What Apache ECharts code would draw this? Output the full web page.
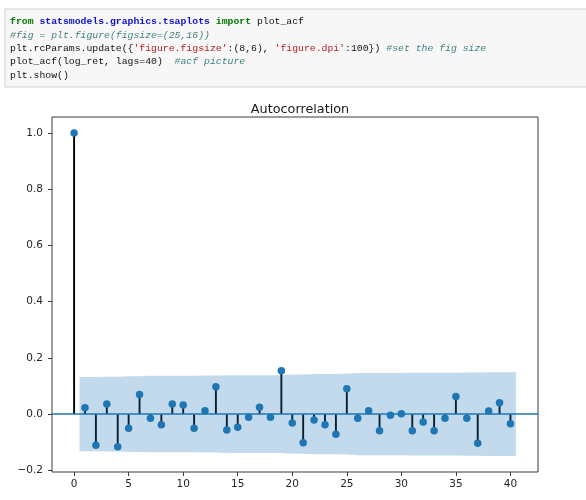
<!DOCTYPE html>
<html>
<head>
<meta charset="utf-8">
<script src="https://cdn.jsdelivr.net/npm/echarts@6.0.0/dist/echarts.min.js"></script>
<style>
  html, body { margin: 0; padding: 0; background: #fff; }
  #acf-chart { width: 586px; height: 500px; }
</style>
</head>
<body>
<div id="acf-chart"></div>
<script>
// lags and autocorrelation values
const lags = [0, 1, 2, 3, 4, 5, 6, 7, 8, 9, 10, 11, 12, 13, 14, 15, 16, 17, 18, 19, 20,
  21, 22, 23, 24, 25, 26, 27, 28, 29, 30, 31, 32, 33, 34, 35, 36, 37, 38, 39, 40]
const acfValues = [1.0, 0.023, -0.111, 0.036, -0.116, -0.050, 0.070, -0.015, -0.038, 0.036, 0.032,
  -0.050, 0.012, 0.097, -0.057, -0.047, -0.011, 0.024, -0.011, 0.154, -0.032,
  -0.102, -0.021, -0.038, -0.072, 0.090, -0.015, 0.012, -0.059, -0.004, 0.001,
  -0.059, -0.028, -0.059, -0.015, 0.063, -0.015, -0.104, 0.011, 0.040, -0.034]

// confidence band (symmetric around 0)
const bandLags = [0.5, 2, 3, 4, 5, 6, 7, 8, 9, 10, 11, 12, 13, 14, 15, 16, 17, 18, 19, 20,
  21, 22, 23, 24, 25, 26, 27, 28, 29, 30, 31, 32, 33, 34, 35, 36, 37, 38, 39, 40.5]
const bandHalf = [0.132, 0.132, 0.133, 0.133, 0.135, 0.135, 0.136, 0.136, 0.136, 0.136,
  0.136, 0.137, 0.137, 0.138, 0.138, 0.138, 0.138, 0.138, 0.138, 0.141,
  0.141, 0.143, 0.143, 0.143, 0.144, 0.146, 0.146, 0.146, 0.146, 0.146,
  0.147, 0.147, 0.147, 0.147, 0.147, 0.148, 0.148, 0.149, 0.149, 0.149]

const xTicks = [0, 5, 10, 15, 20, 25, 30, 35, 40]
const yTicks = [-0.2, 0, 0.2, 0.4, 0.6, 0.8, 1.0]

const codeLines = [
  '{k|from} {m|statsmodels.graphics.tsaplots} {k|import} plot_acf',
  '{c|#fig = plt.figure(figsize=(25,16))}',
  "plt.rcParams.update({{s|'figure.figsize'}:(8,6), {s|'figure.dpi'}:100}) {c|#set the fig size}",
  'plot_acf(log_ret, lags=40)  {c|#acf picture}',
  'plt.show()'
]

const mono = '"Liberation Mono", "DejaVu Sans Mono", monospace'
const codeSize = 9.8
const codeRich = {
  k: {fontFamily: mono, fontSize: codeSize, fontWeight: 'bold', fill: '#007a00'},
  m: {fontFamily: mono, fontSize: codeSize, fontWeight: 'bold', fill: '#1010d0'},
  c: {fontFamily: mono, fontSize: codeSize, fontStyle: 'italic', fill: '#3f7f7f'},
  s: {fontFamily: mono, fontSize: codeSize, fill: '#ba2121'}
}

const codeGraphic = [{
  type: 'rect',
  shape: {x: 5, y: 9, width: 600, height: 78},
  style: {fill: '#f7f7f7', stroke: '#cfcfcf', lineWidth: 1},
  silent: true
}]
codeLines.forEach((line, i) => {
  codeGraphic.push({
    type: 'text',
    x: 10,
    y: 21.7 + i * 13.3,
    silent: true,
    style: {
      text: line,
      rich: codeRich,
      fontFamily: mono,
      fontSize: codeSize,
      fill: '#111',
      verticalAlign: 'middle'
    }
  })
})

const labelFont = '"DejaVu Sans", sans-serif'

const myChart = echarts.init(document.getElementById('acf-chart'))
myChart.setOption({
  backgroundColor: '#fff',
  animation: false,
  title: {
    text: 'Autocorrelation',
    left: 295,
    top: 98,
    textAlign: 'center',
    textStyle: {
      fontFamily: labelFont,
      fontSize: 12.8,
      fontWeight: 'normal',
      color: '#1a1a1a'
    }
  },
  graphic: codeGraphic,
  grid: {
    left: 52,
    top: 117,
    right: 48,
    bottom: 28,
    containLabel: false,
    show: true,
    borderColor: '#3a3a3a',
    borderWidth: 1,
    backgroundColor: '#fff'
  },
  xAxis: {
    type: 'value',
    position: 'bottom',
    min: -2.025,
    max: 42.525,
    axisLine: {show: false, onZero: false},
    splitLine: {show: false},
    axisTick: {
      show: true,
      customValues: xTicks,
      length: 4,
      lineStyle: {color: '#3a3a3a'}
    },
    axisLabel: {
      customValues: xTicks,
      margin: 7,
      fontFamily: labelFont,
      fontSize: 10.5,
      color: '#262626'
    }
  },
  yAxis: {
    type: 'value',
    position: 'left',
    min: -0.206,
    max: 1.057,
    axisLine: {show: false, onZero: false},
    splitLine: {show: false},
    axisTick: {
      show: true,
      customValues: yTicks,
      length: 4,
      lineStyle: {color: '#3a3a3a'}
    },
    axisLabel: {
      customValues: yTicks,
      margin: 9,
      fontFamily: labelFont,
      fontSize: 10.5,
      color: '#262626',
      formatter: v => v.toFixed(1).replace('-', '\u2212')
    }
  },
  series: [
    {
      // stems
      type: 'custom',
      silent: true,
      z: 2,
      data: lags.map((l, i) => [l, acfValues[i]]),
      renderItem: (params, api) => {
        const p0 = api.coord([api.value(0), 0])
        const p1 = api.coord([api.value(0), api.value(1)])
        return {
          type: 'line',
          shape: {x1: p0[0], y1: p0[1], x2: p1[0], y2: p1[1]},
          style: {stroke: '#000', lineWidth: 1.9}
        }
      },
      markLine: {
        silent: true,
        symbol: 'none',
        label: {show: false},
        lineStyle: {color: '#1f77b4', width: 1.5, type: 'solid'},
        data: [{yAxis: 0}]
      }
    },
    {
      // markers
      type: 'scatter',
      silent: true,
      z: 3,
      symbolSize: 7.5,
      itemStyle: {color: '#1f77b4', opacity: 1},
      data: lags.map((l, i) => [l, acfValues[i]])
    },
    {
      // upper half of confidence band
      type: 'line',
      silent: true,
      z: 5,
      showSymbol: false,
      lineStyle: {width: 0},
      areaStyle: {color: 'rgba(31,119,180,0.27)', opacity: 1, origin: 0},
      data: bandLags.map((l, i) => [l, bandHalf[i]])
    },
    {
      // lower half of confidence band
      type: 'line',
      silent: true,
      z: 5,
      showSymbol: false,
      lineStyle: {width: 0},
      areaStyle: {color: 'rgba(31,119,180,0.27)', opacity: 1, origin: 0},
      data: bandLags.map((l, i) => [l, -bandHalf[i]])
    }
  ]
})
</script>
</body>
</html>
